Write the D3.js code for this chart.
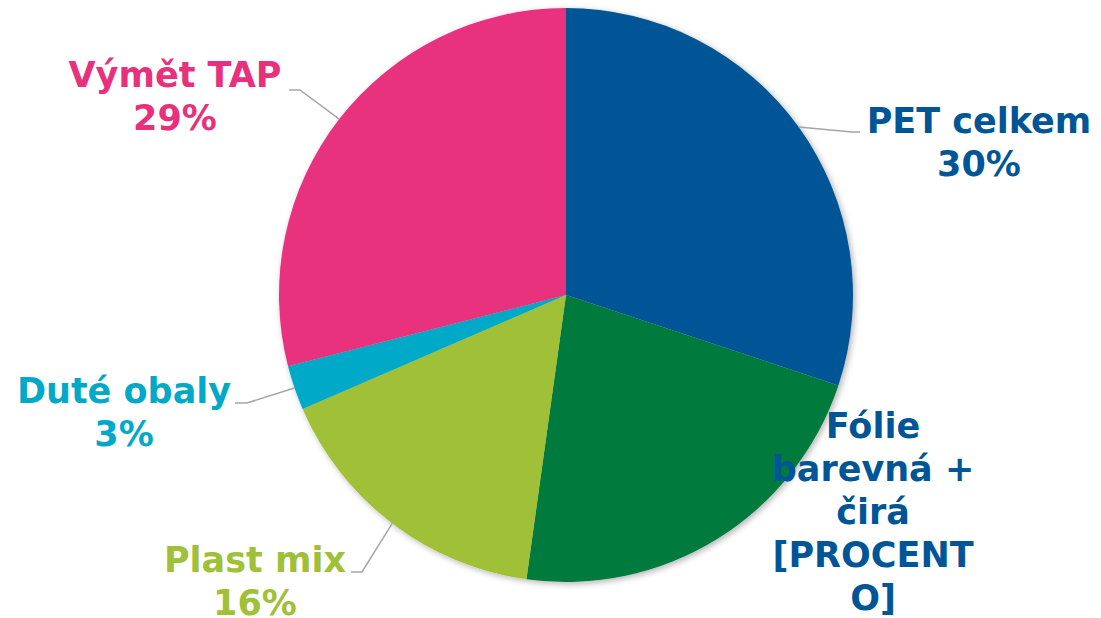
<!DOCTYPE html>
<html>
<head>
<meta charset="utf-8">
<script src="https://cdn.jsdelivr.net/npm/d3@7"></script>
<style>
  body { margin: 0; background: #fff; }
  text { font-family: "DejaVu Sans", Verdana, sans-serif; font-weight: bold; }
</style>
</head>
<body>
<script>
const categories = ["PET celkem", "Fólie barevná + čirá", "Plast mix", "Duté obaly", "Výmět TAP"];
const values = [30.1, 22.1, 16.3, 2.5, 29.0];
const valueLabels = ["30%", "[PROCENTO]", "16%", "3%", "29%"];
const colors = ["#005596", "#007A3D", "#A0C037", "#00A9C8", "#E8317D"];
const labelColors = ["#005596", "#005596", "#A0C037", "#00A9C8", "#E8317D"];

// label lines as shown (Fólie label wraps)
const labelLines = [
  ["PET celkem", "30%"],
  ["Fólie", "barevná +", "čirá", "[PROCENT", "O]"],
  ["Plast mix", "16%"],
  ["Duté obaly", "3%"],
  ["Výmět TAP", "29%"]
];
// label centre x / first baseline y, relative to pie centre
const labelPos = [[413, -162], [307, 143], [-311, 277], [-442, 108], [-391, -208]];
// leader elbow and end (relative to pie centre), null = no leader
const leaderElbow = [[286, -163], null, [-204, 277], [-319, 108], [-266, -205]];
const leaderEnd = [[294, -163], null, [-215, 277], [-331, 108], [-277, -205]];

const width = 1101, height = 618;
const cx = 566, cy = 295, r = 287;

const svg = d3.select("body").append("svg")
  .attr("width", width)
  .attr("height", height);

const defs = svg.append("defs");
const f = defs.append("filter").attr("id", "sh")
  .attr("x", "-10%").attr("y", "-10%").attr("width", "120%").attr("height", "120%");
f.append("feDropShadow").attr("dx", 2).attr("dy", 2)
  .attr("stdDeviation", 3).attr("flood-color", "#000").attr("flood-opacity", 0.3);

const g = svg.append("g").attr("transform", `translate(${cx},${cy})`);

const pie = d3.pie().sort(null).value((d) => d.v);
const data = pie(values.map((v, i) => ({ v: v, i: i })));

const arc = d3.arc().innerRadius(0).outerRadius(r);
const edge = d3.arc().innerRadius(r).outerRadius(r);

g.append("g").attr("filter", "url(#sh)")
  .selectAll("path")
  .data(data)
  .enter()
  .append("path")
  .attr("d", arc)
  .attr("fill", (d) => colors[d.data.i]);

// leader lines
g.selectAll(".leader")
  .data(data.filter((d) => leaderElbow[d.data.i]))
  .enter()
  .append("polyline")
  .attr("class", "leader")
  .attr("fill", "none")
  .attr("stroke", "#A6A6A6")
  .attr("stroke-width", 1.5)
  .attr("points", (d) => {
    const p = edge.centroid(d);
    const e = leaderElbow[d.data.i], t = leaderEnd[d.data.i];
    return [p, e, t].map((q) => q.join(",")).join(" ");
  });

const lab = g.selectAll(".lab")
  .data(data)
  .enter()
  .append("text")
  .attr("class", "lab")
  .attr("text-anchor", "middle")
  .attr("fill", (d) => labelColors[d.data.i])
  .style("font-size", "35px");

lab.selectAll("tspan")
  .data((d) => labelLines[d.data.i].map((s) => ({ s: s, i: d.data.i })))
  .enter()
  .append("tspan")
  .attr("x", (d) => labelPos[d.i][0])
  .attr("y", (d, k) => labelPos[d.i][1] + k * 43)
  .text((d) => d.s);
</script>
</body>
</html>
